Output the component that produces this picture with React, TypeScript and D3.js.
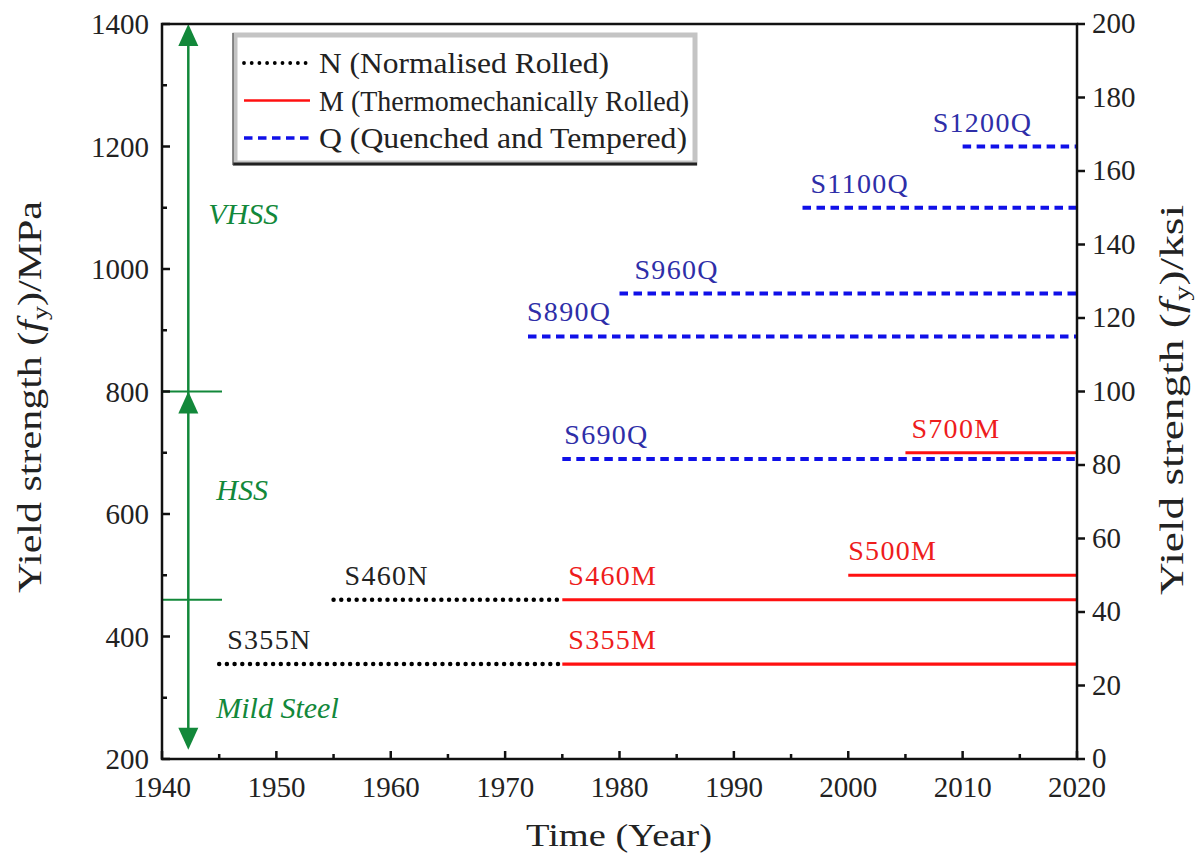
import React from "react";
import * as d3 from "d3";

// ---- data ----
const seriesNames = ["S355N", "S460N", "S355M", "S460M", "S500M", "S700M", "S690Q", "S890Q", "S960Q", "S1100Q", "S1200Q"];
const seriesType = ["N", "N", "M", "M", "M", "M", "Q", "Q", "Q", "Q", "Q"];
const seriesStrength = [355, 460, 355, 460, 500, 700, 690, 890, 960, 1100, 1200];
const seriesStart = [1945, 1955, 1975, 1975, 2000, 2005, 1975, 1972, 1980, 1996, 2010];
const seriesEnd = [1975, 1975, 2020, 2020, 2020, 2020, 2020, 2020, 2020, 2020, 2020];

const legendKeys = ["N", "M", "Q"];
const legendLabels = ["N (Normalised Rolled)", "M (Thermomechanically Rolled)", "Q (Quenched and Tempered)"];

const xTicks = [1940, 1950, 1960, 1970, 1980, 1990, 2000, 2010, 2020];
const yTicksMPa = [200, 400, 600, 800, 1000, 1200, 1400];
const yTicksKsi = [0, 20, 40, 60, 80, 100, 120, 140, 160, 180, 200];

const classBounds = [215, 460, 800, 1400];
const classNames = ["Mild Steel", "HSS", "VHSS"];
const classLabelValue = [283, 639, 1090];
const arrowYear = 1942.3;

// ---- layout ----
const L = 162, R = 1077, T = 24, B = 759;
const FONT = "'Liberation Serif', 'Times New Roman', serif";

const typeStyle: Record<string, { stroke: string; width: number; dash: string; cap: string; label: string }> = {
  N: { stroke: "#000000", width: 4.5, dash: "0 7.7", cap: "round", label: "#222222" },
  M: { stroke: "#ff1010", width: 3.2, dash: "", cap: "butt", label: "#ee1c1c" },
  Q: { stroke: "#1010e8", width: 4, dash: "8.5 5.5", cap: "butt", label: "#2e2ea8" },
};
const labelDx: Record<string, number> = {
  S355N: 8, S460N: 11, S355M: 6, S460M: 6, S500M: 0, S700M: 6, S690Q: 2, S890Q: -1, S960Q: 15, S1100Q: 8, S1200Q: -30,
};
const legendTextLen = [290, 370, 368];
const GREEN = "#12883a";

export default function App() {
  const x = d3.scaleLinear().domain([1940, 2020]).range([L, R]);
  const y = d3.scaleLinear().domain([200, 1400]).range([B, T]);
  const yR = d3.scaleLinear().domain([0, 200]).range([B, T]);
  const xMinor = d3.range(1945, 2020, 10);
  const yMinor = d3.range(300, 1400, 200);
  const ax = x(arrowYear);

  return (
    <svg width={1200} height={858} style={{ position: "absolute", left: 0, top: 0, background: "#fff" }} fontFamily={FONT}>
      {/* series lines */}
      {seriesNames.map((n, i) => {
        const st = typeStyle[seriesType[i]];
        return (
          <g key={n}>
            <line x1={x(seriesStart[i])} x2={x(seriesEnd[i])} y1={y(seriesStrength[i])} y2={y(seriesStrength[i])}
              stroke={st.stroke} strokeWidth={st.width} strokeDasharray={st.dash || undefined} strokeLinecap={st.cap as any} />
            <text x={x(seriesStart[i]) + labelDx[n]} y={y(seriesStrength[i]) - 15} fontSize={28} fill={st.label} letterSpacing={1.3}>{n}</text>
          </g>
        );
      })}

      {/* green classification arrows */}
      <g stroke={GREEN} fill={GREEN}>
        <line x1={ax} x2={ax} y1={y(classBounds[0]) - 4} y2={y(classBounds[3]) + 4} strokeWidth={2.5} />
        {[classBounds[1], classBounds[2]].map((v) => (
          <line key={v} x1={L} x2={L + 60} y1={y(v)} y2={y(v)} strokeWidth={2} />
        ))}
        {[classBounds[2], classBounds[3]].map((v) => (
          <path key={"u" + v} d={`M${ax},${y(v)} L${ax - 10},${y(v) + 22} L${ax + 10},${y(v) + 22} Z`} stroke="none" />
        ))}
        <path d={`M${ax},${y(classBounds[0])} L${ax - 10},${y(classBounds[0]) - 22} L${ax + 10},${y(classBounds[0]) - 22} Z`} stroke="none" />
      </g>
      {classNames.map((c, i) => (
        <text key={c} x={ax + (i === 2 ? 20 : 28)} y={y(classLabelValue[i]) + 10} fill={GREEN} fontStyle="italic" fontSize={30}>{c}</text>
      ))}

      {/* legend */}
      <g>
        <rect x={235} y={35} width={460} height={128} fill="#fff" stroke="#c4c4c4" strokeWidth={5} />
        <line x1={233} x2={697} y1={164} y2={164} stroke="#222" strokeWidth={3} />
        <line x1={233} x2={233} y1={33} y2={165} stroke="#555" strokeWidth={1.2} />
        {legendKeys.map((k, i) => {
          const st = typeStyle[k];
          const yy = 63 + i * 37.5;
          return (
            <g key={k}>
              <line x1={244} x2={310} y1={yy} y2={yy} stroke={st.stroke} strokeWidth={st.width * 0.85}
                strokeDasharray={st.dash || undefined} strokeLinecap={st.cap as any} />
              <text x={319} y={yy + 10} fontSize={30} fill="#222" textLength={legendTextLen[i]} lengthAdjust="spacingAndGlyphs">{legendLabels[i]}</text>
            </g>
          );
        })}
      </g>

      {/* frame */}
      <rect x={L} y={T} width={R - L} height={B - T} fill="none" stroke="#111" strokeWidth={2.5} />

      {/* bottom axis */}
      {xTicks.map((t) => (
        <g key={t}>
          <line x1={x(t)} x2={x(t)} y1={B} y2={B - 8} stroke="#111" strokeWidth={2.5} />
          <text x={x(t)} y={797} textAnchor="middle" fontSize={29} fill="#222">{t}</text>
        </g>
      ))}
      {xMinor.map((t) => (
        <line key={t} x1={x(t)} x2={x(t)} y1={B} y2={B - 5} stroke="#111" strokeWidth={2.5} />
      ))}

      {/* left axis */}
      {yTicksMPa.map((t) => (
        <g key={t}>
          <line x1={L} x2={L + 8} y1={y(t)} y2={y(t)} stroke="#111" strokeWidth={2.5} />
          <text x={149} y={y(t) + 10} textAnchor="end" fontSize={29} fill="#222">{t}</text>
        </g>
      ))}
      {yMinor.map((t) => (
        <line key={t} x1={L} x2={L + 5} y1={y(t)} y2={y(t)} stroke="#111" strokeWidth={2.5} />
      ))}

      {/* right axis */}
      {yTicksKsi.map((t) => (
        <g key={t}>
          <line x1={R} x2={R + 8} y1={yR(t)} y2={yR(t)} stroke="#111" strokeWidth={2.5} />
          <text x={1092} y={yR(t) + 9} textAnchor="start" fontSize={29} fill="#222">{t}</text>
        </g>
      ))}

      {/* axis titles */}
      <text transform={`translate(41,397) rotate(-90)`} textAnchor="middle" fontSize={33} fill="#222" textLength={392} lengthAdjust="spacingAndGlyphs">
        Yield strength (<tspan fontStyle="italic">f</tspan><tspan fontSize={22} dy={6}>y</tspan><tspan dy={-6}>)/MPa</tspan>
      </text>
      <text transform={`translate(1183,400) rotate(-90)`} textAnchor="middle" fontSize={33} fill="#222" textLength={390} lengthAdjust="spacingAndGlyphs">
        Yield strength (<tspan fontStyle="italic">f</tspan><tspan fontSize={22} dy={6}>y</tspan><tspan dy={-6}>)/ksi</tspan>
      </text>
      <text x={619} y={846} textAnchor="middle" fontSize={32} fill="#222" textLength={186} lengthAdjust="spacingAndGlyphs">Time (Year)</text>
    </svg>
  );
}
